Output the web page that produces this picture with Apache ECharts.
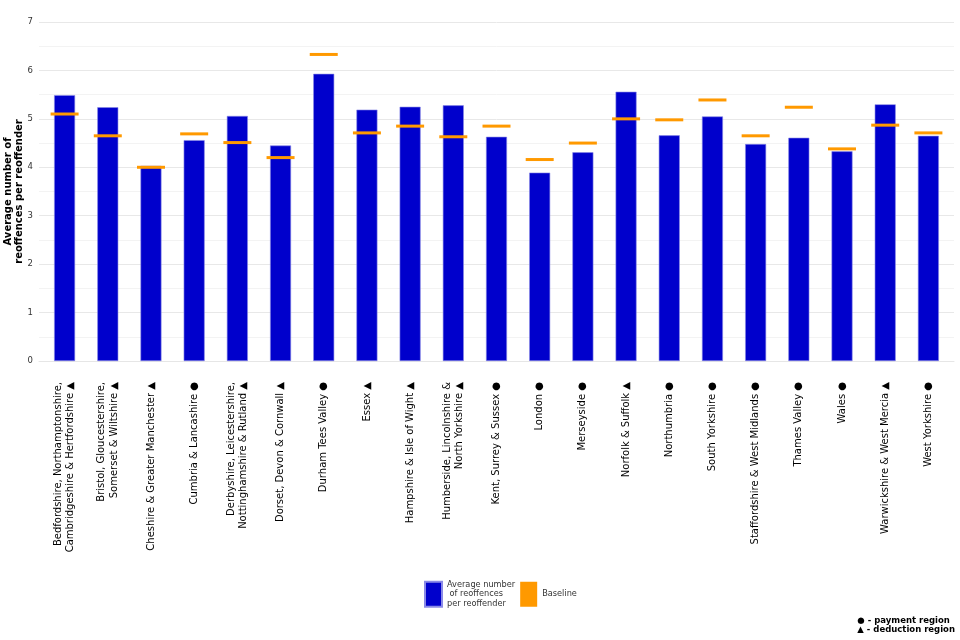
<!DOCTYPE html>
<html>
<head>
<meta charset="utf-8">
<script src="https://cdn.jsdelivr.net/npm/echarts@6/dist/echarts.min.js"></script>
<style>html,body{margin:0;padding:0;background:#fff;}#c{width:960px;height:640px;}</style>
</head>
<body>
<div id="c"></div>
<script>
var categories = [
  "Bedfordshire, Northamptonshire,\nCambridgeshire & Hertfordshire ▲",
  "Bristol, Gloucestershire,\nSomerset & Wiltshire ▲",
  "Cheshire & Greater Manchester ▲",
  "Cumbria & Lancashire ●",
  "Derbyshire, Leicestershire,\nNottinghamshire & Rutland ▲",
  "Dorset, Devon & Cornwall ▲",
  "Durham Tees Valley ●",
  "Essex ▲",
  "Hampshire & Isle of Wight ▲",
  "Humberside, Lincolnshire &\nNorth Yorkshire ▲",
  "Kent, Surrey & Sussex ●",
  "London ●",
  "Merseyside ●",
  "Norfolk & Suffolk ▲",
  "Northumbria ●",
  "South Yorkshire ●",
  "Staffordshire & West Midlands ●",
  "Thames Valley ●",
  "Wales ●",
  "Warwickshire & West Mercia ▲",
  "West Yorkshire ●"
];
var averageReoffences = [5.49, 5.24, 4.03, 4.56, 5.06, 4.45, 5.93, 5.19, 5.25, 5.28, 4.63, 3.89, 4.31, 5.56, 4.66, 5.05, 4.48, 4.61, 4.33, 5.30, 4.65];
var baseline = [5.10, 4.65, 4.00, 4.69, 4.51, 4.20, 6.33, 4.71, 4.85, 4.63, 4.85, 4.16, 4.50, 5.00, 4.98, 5.39, 4.65, 5.24, 4.38, 4.87, 4.71];
var yTicks = [0, 1, 2, 3, 4, 5, 6, 7];
var yAxisTitle = 'Average number of\nreoffences per reoffender';

var yMin = yTicks[0], yMax = yTicks[yTicks.length - 1];
var chart = echarts.init(document.getElementById('c'));
chart.setOption({
  animation: false,
  textStyle: { fontFamily: 'DejaVu Sans' },
  grid: [
    { left: 39, right: 6, top: 22, bottom: 279, outerBoundsMode: 'none', containLabel: false },
    { left: 43, right: 10, top: 22, bottom: 279, outerBoundsMode: 'none', containLabel: false }
  ],
  legend: {
    left: 424, top: 580, padding: 0,
    itemWidth: 17, itemHeight: 25, itemGap: 5,
    textStyle: { fontSize: 8.2, color: '#333', lineHeight: 9.5, fontFamily: 'DejaVu Sans' },
    data: [
      { name: 'Average number\n of reoffences\nper reoffender', icon: 'rect' },
      { name: 'Baseline', icon: 'rect' }
    ]
  },
  xAxis: [
    {
      gridIndex: 0, type: 'category', data: categories,
      axisTick: { show: false }, axisLabel: { show: false },
      axisLine: { show: true, lineStyle: { color: '#e6e6e6' } }
    },
    {
      gridIndex: 1, type: 'category', data: categories,
      axisTick: { show: false },
      axisLine: { show: false },
      axisLabel: { rotate: 90, interval: 0, fontSize: 10, color: '#000', lineHeight: 12.5, margin: 21 }
    }
  ],
  yAxis: [
    {
      gridIndex: 0, type: 'value',
      min: yMin, max: yMax, interval: 1,
      axisLine: { show: false }, axisTick: { show: false },
      axisLabel: { fontSize: 8.5, color: '#333', margin: 6 },
      splitLine: { lineStyle: { color: '#e8e8e8' } },
      minorTick: { show: false, splitNumber: 2 },
      minorSplitLine: { show: true, lineStyle: { color: '#f3f3f3' } }
    },
    {
      gridIndex: 1, type: 'value', min: yMin, max: yMax, interval: 1,
      axisLine: { show: false }, axisTick: { show: false },
      axisLabel: { show: false }, splitLine: { show: false }
    }
  ],
  series: [
    {
      name: 'Average number\n of reoffences\nper reoffender',
      type: 'bar', xAxisIndex: 1, yAxisIndex: 1,
      data: averageReoffences,
      barWidth: 21,
      itemStyle: { color: '#0000CC', borderColor: '#8a8ae6', borderWidth: 0.6 }
    },
    {
      name: 'Baseline',
      type: 'scatter', xAxisIndex: 1, yAxisIndex: 1,
      data: baseline,
      symbol: 'rect',
      symbolSize: [28, 3],
      itemStyle: { color: '#FF9900', opacity: 1 },
      z: 5
    }
  ],
  graphic: [
    {
      type: 'text', x: 14, y: 191.5, rotation: Math.PI / 2,
      style: { text: yAxisTitle, x: 0, y: 0, align: 'center', verticalAlign: 'middle', fontSize: 10, fontWeight: 'bold', fill: '#000', lineHeight: 10.5, fontFamily: 'DejaVu Sans' }
    },
    {
      type: 'text', right: 5, top: 616,
      style: { text: '● - payment region\n▲ - deduction region', align: 'right', fontSize: 8.5, fontWeight: 'bold', fill: '#000', lineHeight: 9.5, fontFamily: 'DejaVu Sans' }
    }
  ]
});
</script>
</body>
</html>
